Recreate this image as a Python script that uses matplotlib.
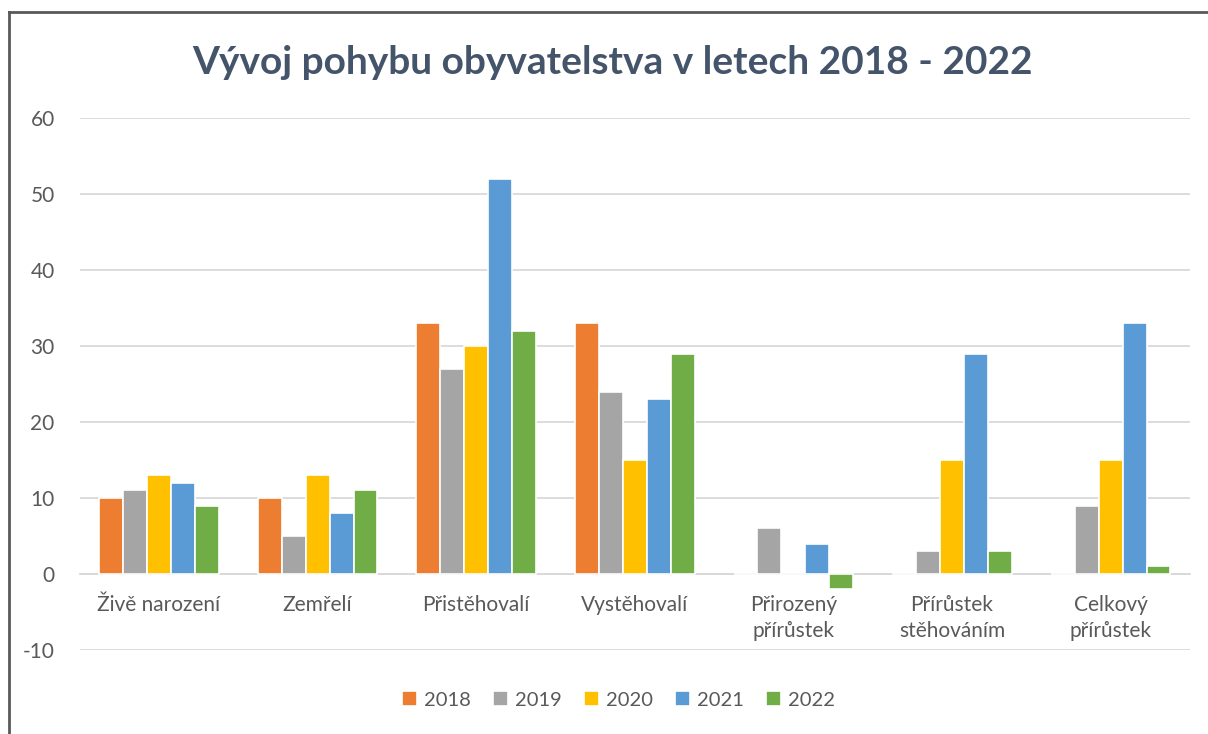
import matplotlib
matplotlib.use('Agg')
import matplotlib.pyplot as plt
import numpy as np
from matplotlib.lines import Line2D

plt.rcParams['font.family'] = ['Lato', 'DejaVu Sans']
plt.rcParams['axes.unicode_minus'] = False

categories = ['Živě narození', 'Zemřelí', 'Přistěhovalí', 'Vystěhovalí',
              'Přirozený\npřírůstek', 'Přírůstek\nstěhováním', 'Celkový\npřírůstek']
years = ['2018', '2019', '2020', '2021', '2022']
v2018 = [10, 10, 33, 33, 0, 0, 0]
v2019 = [11, 5, 27, 24, 6, 3, 9]
v2020 = [13, 13, 30, 15, 0, 15, 15]
v2021 = [12, 8, 52, 23, 4, 29, 33]
v2022 = [9, 11, 32, 29, -2, 3, 1]
series = [v2018, v2019, v2020, v2021, v2022]
colors = ['#ED7D31', '#A5A5A5', '#FFC000', '#5B9BD5', '#70AD47']

text_col = '#595959'
grid_col = '#D9D9D9'

fig = plt.figure(figsize=(12.08, 7.34), dpi=100)
ax = fig.add_axes([0.066, 0.1144, 0.919, 0.7248])

x = np.arange(len(categories))
w = 0.151
for i, (vals, c, yr) in enumerate(zip(series, colors, years)):
    ax.bar(x + (i - 2) * w, vals, width=w, color=c, edgecolor='white',
           linewidth=1.2, label=yr, zorder=3)

for s in ['top', 'right', 'left']:
    ax.spines[s].set_visible(False)
# category labels sit just under the zero line
ax.spines['bottom'].set_position(('data', 0))
ax.spines['bottom'].set_color(grid_col)
ax.spines['bottom'].set_linewidth(1.3)

ax.set_xlim(-0.5, len(categories) - 0.5)
ax.set_ylim(-10, 60)
ax.set_yticks(range(-10, 61, 10))
ax.yaxis.grid(True, color=grid_col, linewidth=1.3, zorder=0)
ax.set_xticks(x)
ax.set_xticklabels(categories, linespacing=1.4)
ax.tick_params(axis='x', length=0, pad=15, labelsize=15, labelcolor=text_col)
ax.tick_params(axis='y', length=0, pad=18, labelsize=15, labelcolor=text_col)

fig.text(0.507, 0.915, 'Vývoj pohybu obyvatelstva v letech 2018 - 2022',
         ha='center', va='center', fontsize=28, fontweight='bold', color='#44546A')

leg = fig.legend(*ax.get_legend_handles_labels(), loc='center',
                 bbox_to_anchor=(0.512, 1 - 700 / 734), ncol=5, frameon=False,
                 fontsize=14.5, handlelength=0.75, handleheight=0.75,
                 handletextpad=0.35, columnspacing=1.1, labelcolor=text_col)

# chart border (left and top edges visible)
fig.add_artist(Line2D([0.0075, 0.0075], [0, 0.9837], color='#595959', linewidth=2))
fig.add_artist(Line2D([0.0075, 1.0], [0.9837, 0.9837], color='#595959', linewidth=2))

fig.savefig('out.png', dpi=100)
